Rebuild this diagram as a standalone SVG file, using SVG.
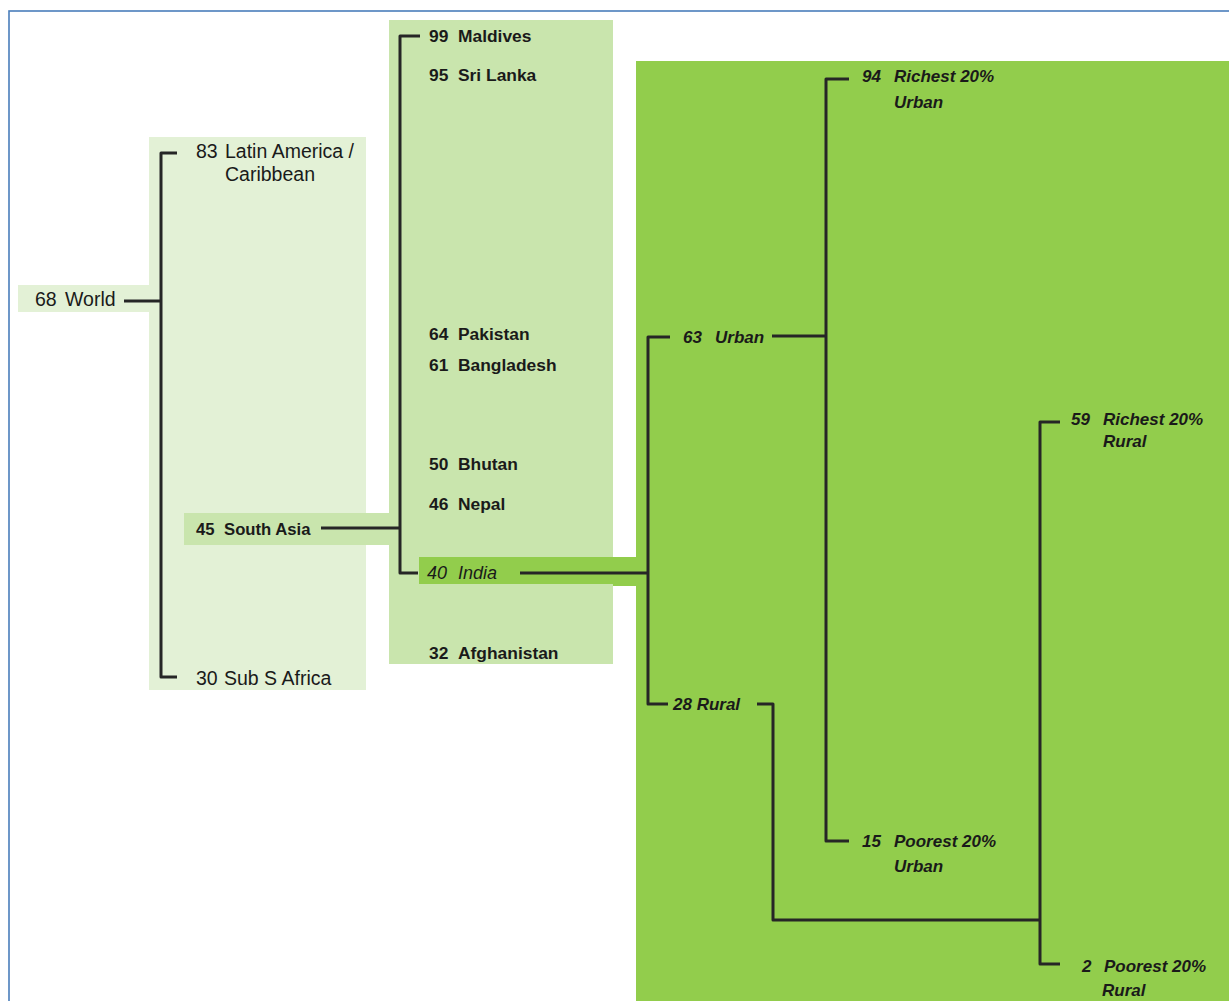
<svg xmlns="http://www.w3.org/2000/svg" width="1229" height="1001" viewBox="0 0 1229 1001">
<style>
.t{font-family:"Liberation Sans",Arial,sans-serif;fill:#1a1a1a}
.reg{font-size:19.5px}
.b{font-size:17.4px;font-weight:bold}
.i{font-size:18px;font-style:italic}
.bi{font-size:17px;font-style:italic;font-weight:bold}
.ln{fill:none;stroke:#262626;stroke-width:3;stroke-linejoin:round;stroke-linecap:butt}
</style>
<rect x="0" y="0" width="1229" height="1001" fill="#ffffff"/>
<rect x="9" y="11" width="1240" height="1010" fill="none" stroke="#4a7ebb" stroke-width="1.6"/>
<g id="panels">
<rect x="149" y="137" width="217" height="553" fill="#e3f1d6"/>
<rect x="389" y="20" width="224" height="644" fill="#c9e5ad"/>
<rect x="636" y="61" width="600" height="945" fill="#92cd4c"/>
</g>
<g id="world">
<rect x="18" y="285" width="131" height="27" fill="#e3f1d6"/>
<text class="t reg" y="306"><tspan x="35">68</tspan><tspan x="65">World</tspan></text>
</g>
<g id="latin-america">
<text class="t reg" y="158"><tspan x="196">83</tspan><tspan x="225">Latin America /</tspan></text>
<text class="t reg" x="225" y="181">Caribbean</text>
</g>
<g id="south-asia">
<rect x="184" y="513" width="205" height="32" fill="#c9e5ad"/>
<text class="t b" y="535" style="font-size:16.7px"><tspan x="196">45</tspan><tspan x="224">South Asia</tspan></text>
</g>
<g id="sub-s-africa">
<text class="t reg" y="685"><tspan x="196">30</tspan><tspan x="224">Sub S Africa</tspan></text>
</g>
<g id="maldives"><text class="t b" y="42"><tspan x="429">99</tspan><tspan x="458">Maldives</tspan></text></g>
<g id="sri-lanka"><text class="t b" y="81"><tspan x="429">95</tspan><tspan x="458">Sri Lanka</tspan></text></g>
<g id="pakistan"><text class="t b" y="340"><tspan x="429">64</tspan><tspan x="458">Pakistan</tspan></text></g>
<g id="bangladesh"><text class="t b" y="371"><tspan x="429">61</tspan><tspan x="458">Bangladesh</tspan></text></g>
<g id="bhutan"><text class="t b" y="470"><tspan x="429">50</tspan><tspan x="458">Bhutan</tspan></text></g>
<g id="nepal"><text class="t b" y="510"><tspan x="429">46</tspan><tspan x="458">Nepal</tspan></text></g>
<g id="india">
<rect x="419" y="557" width="220" height="27" fill="#92cd4c"/>
<rect x="613" y="557" width="26" height="29" fill="#92cd4c"/>
<text class="t i" y="579"><tspan x="427">40</tspan><tspan x="458">India</tspan></text>
</g>
<g id="afghanistan"><text class="t b" y="659"><tspan x="429">32</tspan><tspan x="458">Afghanistan</tspan></text></g>
<g id="urban"><text class="t bi" y="343"><tspan x="683">63</tspan><tspan x="715">Urban</tspan></text></g>
<g id="rural"><text class="t bi" x="673" y="710">28 Rural</text></g>
<g id="richest-urban">
<text class="t bi" y="82"><tspan x="862">94</tspan><tspan x="894">Richest 20%</tspan></text>
<text class="t bi" x="894" y="108">Urban</text>
</g>
<g id="poorest-urban">
<text class="t bi" y="847"><tspan x="862">15</tspan><tspan x="894">Poorest 20%</tspan></text>
<text class="t bi" x="894" y="872">Urban</text>
</g>
<g id="richest-rural">
<text class="t bi" y="425"><tspan x="1071">59</tspan><tspan x="1103">Richest 20%</tspan></text>
<text class="t bi" x="1103" y="447">Rural</text>
</g>
<g id="poorest-rural">
<text class="t bi" y="972"><tspan x="1082">2</tspan><tspan x="1104">Poorest 20%</tspan></text>
<text class="t bi" x="1102" y="996">Rural</text>
</g>
<g id="connectors">
<path class="ln" d="M124,301 H161"/>
<path class="ln" d="M177,153 H161 V677 H177"/>
<path class="ln" d="M321,528 H400"/>
<path class="ln" d="M420,36 H400 V573 H418"/>
<path class="ln" d="M520,573 H648"/>
<path class="ln" d="M670,337 H648 V704 H668"/>
<path class="ln" d="M772,336 H826"/>
<path class="ln" d="M849,79 H826 V841 H849"/>
<path class="ln" d="M757,704 H773 V920 H1040"/>
<path class="ln" d="M1060,422 H1040 V964 H1060"/>
</g>
</svg>
